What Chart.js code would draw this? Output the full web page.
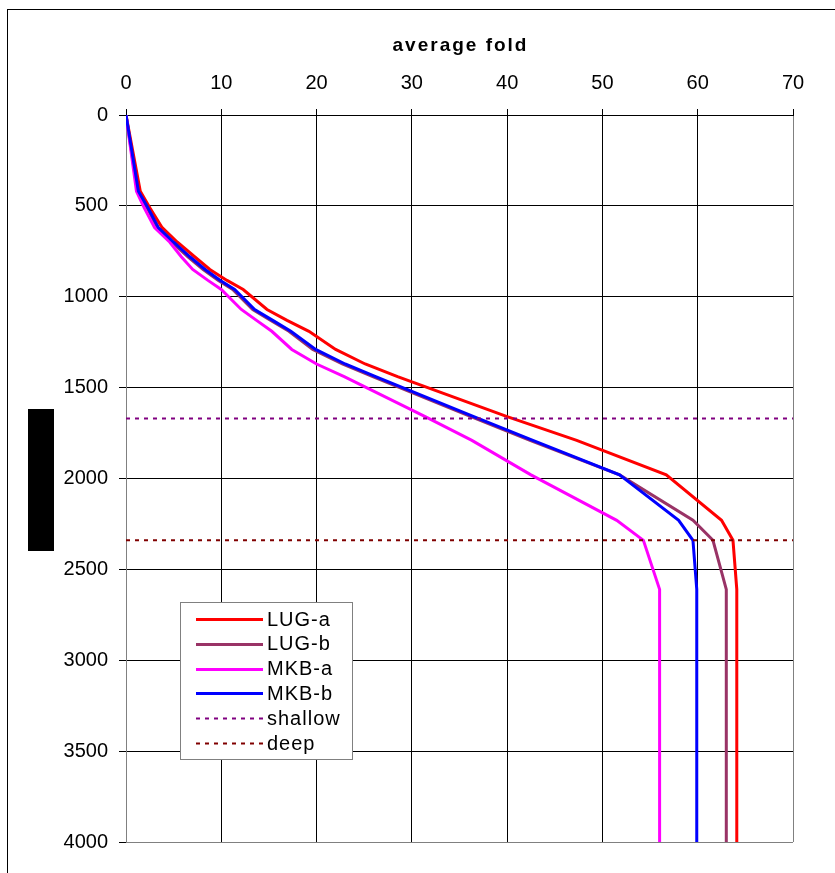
<!DOCTYPE html>
<html lang="en">
  <head>
    <meta charset="utf-8">
    <title>average fold</title>
    <style>
      body { margin: 0; background: #fff; }
    </style>
  </head>
  <body>
    <canvas id="fold-chart" width="835" height="873"></canvas>
    <script src="https://cdn.jsdelivr.net/npm/chart.js"></script>
    <script>
      // depth levels (y) and average fold per series (x)
      var depths = [0, 420, 510, 620, 700, 780, 850, 910, 960, 1070, 1130, 1190, 1290, 1370, 1440, 1660, 1790, 1980, 2230, 2340, 2610, 4000];
      var lugA = [0, 1.5, 2.5, 3.8, 5.4, 7.2, 8.8, 10.6, 12.3, 14.8, 16.9, 19.2, 22.0, 25.1, 28.5, 40.0, 47.3, 56.7, 62.5, 63.7, 64.1, 64.1];
      var lugB = [0, 1.2, 2.2, 3.3, 4.8, 6.5, 8.1, 9.7, 11.2, 13.3, 15.2, 17.1, 19.6, 22.7, 25.9, 36.2, 42.4, 51.8, 59.5, 61.6, 63.0, 63.0];
      var mkbA = [0, 1.1, 1.9, 3.0, 4.6, 5.8, 7.0, 8.6, 10.0, 12.1, 13.7, 15.3, 17.4, 20.0, 22.9, 31.4, 36.3, 42.5, 51.5, 54.3, 56.0, 56.0];
      var mkbB = [0, 1.3, 2.3, 3.4, 5.0, 6.7, 8.3, 9.9, 11.4, 13.5, 15.4, 17.3, 19.9, 23.0, 26.2, 36.5, 42.7, 51.8, 58.0, 59.5, 59.9, 59.9];
      var shallowDepth = 1670;
      var deepDepth = 2340;
      var foldRange = [0, 70];
      var seriesNames = ['LUG-a', 'LUG-b', 'MKB-a', 'MKB-b', 'shallow', 'deep'];

      function pts(xs) {
        return xs.map(function (v, i) { return {x: v, y: depths[i]}; });
      }
      function flat(d) {
        return [{x: foldRange[0], y: d}, {x: foldRange[1], y: d}];
      }

      var font = "'Liberation Sans', Arial, sans-serif";

      var extras = {
        id: 'extras',
        beforeDraw: function (chart) {
          var c = chart.ctx;
          c.save();
          c.fillStyle = '#fff';
          c.fillRect(0, 0, chart.width, chart.height);
          c.strokeStyle = '#000';
          c.lineWidth = 1;
          c.strokeRect(7.5, 9.5, 900, 900);
          c.restore();
        },
        afterDraw: function (chart) {
          var c = chart.ctx;
          var a = chart.chartArea;
          c.save();
          // axis title
          c.font = 'bold 19px ' + font;
          c.letterSpacing = '2px';
          c.fillStyle = '#000';
          c.textAlign = 'center';
          c.textBaseline = 'middle';
          c.fillText('average fold', (a.left + a.right) / 2 + 1, 46);
          // black block over the left title
          c.fillStyle = '#000';
          c.fillRect(28, 409, 26, 142);
          // legend
          var bx = 180, by = 602, bw = 172, bh = 157;
          c.letterSpacing = '1px';
          c.fillStyle = '#fff';
          c.fillRect(bx, by, bw, bh);
          c.strokeStyle = '#808080';
          c.lineWidth = 1;
          c.strokeRect(bx + 0.5, by + 0.5, bw, bh);
          c.font = '20px ' + font;
          c.textAlign = 'left';
          chart.data.datasets.forEach(function (ds, i) {
            var y = 619 + i * 24.8;
            c.strokeStyle = ds.borderColor;
            c.lineWidth = ds.borderWidth;
            c.setLineDash(ds.borderDash || []);
            c.beginPath();
            c.moveTo(196, Math.round(y) + 0.5);
            c.lineTo(263, Math.round(y) + 0.5);
            c.stroke();
            c.setLineDash([]);
            c.fillStyle = '#000';
            c.fillText(ds.label, 267, y + 1);
          });
          c.restore();
        }
      };

      var chart = new Chart(document.getElementById('fold-chart'), {
        type: 'scatter',
        data: {
          datasets: [
            {label: seriesNames[0], data: pts(lugA), borderColor: '#ff0000', borderWidth: 3, order: 10},
            {label: seriesNames[1], data: pts(lugB), borderColor: '#993366', borderWidth: 3, order: 9},
            {label: seriesNames[2], data: pts(mkbA), borderColor: '#ff00ff', borderWidth: 3, order: 8},
            {label: seriesNames[3], data: pts(mkbB), borderColor: '#0000ff', borderWidth: 3, order: 7},
            {label: seriesNames[4], data: flat(shallowDepth), borderColor: '#800080', borderWidth: 2, borderDash: [4, 5], order: 6},
            {label: seriesNames[5], data: flat(deepDepth), borderColor: '#800000', borderWidth: 2, borderDash: [4, 5], order: 5}
          ]
        },
        options: {
          responsive: false,
          animation: false,
          showLine: true,
          layout: { padding: {left: 0, top: 0, right: 42, bottom: 31} },
          elements: {
            point: { radius: 0, hoverRadius: 0 },
            line: { tension: 0, fill: false }
          },
          plugins: {
            legend: { display: false },
            tooltip: { enabled: false }
          },
          scales: {
            x: {
              type: 'linear',
              position: 'top',
              min: foldRange[0],
              max: foldRange[1],
              afterFit: function (s) { s.height = 115; },
              ticks: { stepSize: 10, padding: 14, color: '#000', font: { family: font, size: 20 } },
              grid: {
                color: function (ctx) { return ctx.tick && ctx.tick.value === 70 ? '#808080' : '#000'; },
                tickColor: '#000',
                tickLength: 6
              },
              border: { color: '#000' }
            },
            y: {
              type: 'linear',
              reverse: true,
              min: 0,
              max: 4000,
              afterFit: function (s) { s.width = 126; },
              ticks: {
                stepSize: 500,
                padding: 11,
                color: '#000',
                font: { family: font, size: 20 },
                callback: function (v) { return String(v); }
              },
              grid: {
                color: function (ctx) { return ctx.tick && ctx.tick.value === 4000 ? '#808080' : '#000'; },
                tickColor: '#000',
                tickLength: 7
              },
              border: { color: '#808080' }
            }
          }
        },
        plugins: [extras]
      });
    </script>
  </body>
</html>
